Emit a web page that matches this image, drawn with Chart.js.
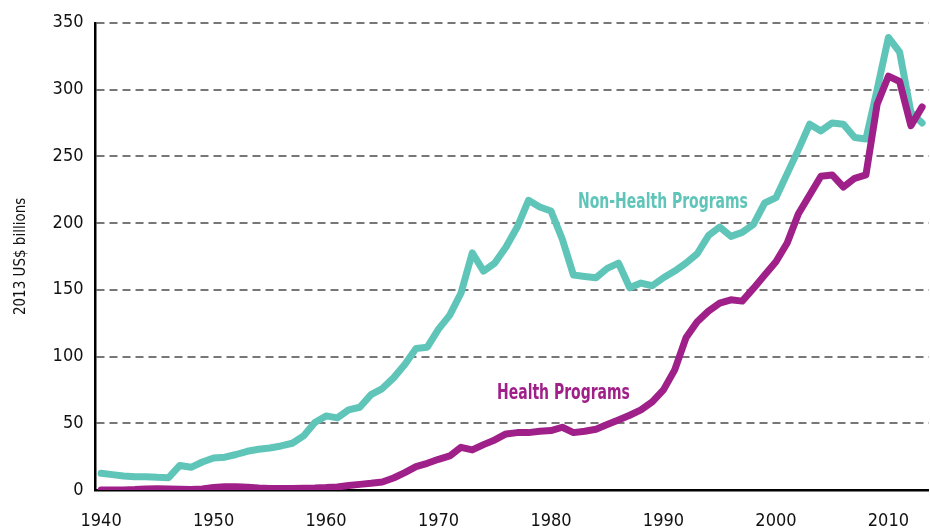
<!DOCTYPE html>
<html>
<head>
<meta charset="utf-8">
<script src="https://cdn.jsdelivr.net/npm/chart.js@4/dist/chart.umd.min.js"></script>
<style>
  html, body { margin: 0; padding: 0; background: #fff; }
  #wrap { width: 930px; height: 531px; }
</style>
</head>
<body>
<div id="wrap"><canvas id="programsChart"></canvas></div>
<script>
// années 1940 - 2013
const years = [
  1940, 1941, 1942, 1943, 1944, 1945, 1946, 1947, 1948, 1949,
  1950, 1951, 1952, 1953, 1954, 1955, 1956, 1957, 1958, 1959,
  1960, 1961, 1962, 1963, 1964, 1965, 1966, 1967, 1968, 1969,
  1970, 1971, 1972, 1973, 1974, 1975, 1976, 1977, 1978, 1979,
  1980, 1981, 1982, 1983, 1984, 1985, 1986, 1987, 1988, 1989,
  1990, 1991, 1992, 1993, 1994, 1995, 1996, 1997, 1998, 1999,
  2000, 2001, 2002, 2003, 2004, 2005, 2006, 2007, 2008, 2009,
  2010, 2011, 2012, 2013,
];

// 2013 US$ billions
const healthPrograms = [
  0, 0, 0, 0.3, 0.8, 1, 0.8, 0.5, 0.3, 0.8,
  1.8, 2.4, 2.5, 2, 1.5, 1.2, 1.1, 1.2, 1.4, 1.5,
  1.8, 2.3, 3.3, 4.2, 5, 6, 9, 13, 17.5, 20,
  23, 25.5, 32, 30, 34, 37.5, 42, 43, 43, 44,
  44.5, 47, 43, 44, 45.5, 49, 52.5, 56, 60, 66,
  75, 90, 114, 126, 134, 140, 142.5, 141.5, 151, 161,
  171, 185, 207, 221, 235, 236, 227, 233.5, 236, 289,
  310, 306, 273, 287,
];

const nonHealthPrograms = [
  12.5, 11.5, 10.5, 10, 10, 9.5, 9.2, 18.4, 17, 21,
  24, 24.6, 26.6, 29, 30.5, 31.5, 33, 35, 40.5, 50.5,
  55.5, 54, 60, 62, 71.5, 76, 84, 94, 106, 107,
  120.5, 131, 147.6, 177.6, 164, 170, 182, 197, 217, 212,
  209, 188, 161, 160, 159, 166, 170, 151.5, 155, 153,
  159, 164, 170, 177, 190.6, 197, 190, 193, 199, 215,
  219, 237, 255, 274, 269, 275, 274, 264, 263, 300,
  339, 328, 283, 275,
];

const xTicks = [1940, 1950, 1960, 1970, 1980, 1990, 2000, 2010];
const yTicks = [0, 50, 100, 150, 200, 250, 300, 350];

const TEAL = "#60c5b9";
const MAGENTA = "#a0208a";
const NARROW = "'DejaVu Sans Condensed', 'DejaVu Sans', sans-serif";

// étiquettes des séries, posées sur le graphique
const seriesLabels = [
  { text: "Non-Health Programs", x: 1982.4, y: 215.5, color: TEAL },
  { text: "Health Programs", x: 1975.2, y: 72, color: MAGENTA },
];

const labelPlugin = {
  id: "seriesLabels",
  afterDatasetsDraw(chart) {
    const { ctx, scales } = chart;
    seriesLabels.forEach((l) => {
      ctx.save();
      ctx.translate(scales.x.getPixelForValue(l.x), scales.y.getPixelForValue(l.y));
      ctx.scale(0.74, 1); // police étroite
      ctx.font = "bold 21px " + NARROW;
      ctx.textAlign = "left";
      ctx.textBaseline = "middle";
      ctx.fillStyle = l.color;
      ctx.fillText(l.text, 0, 0);
      ctx.restore();
    });
  },
};

const toPoints = (values) => years.map((yr, i) => ({ x: yr, y: values[i] }));

new Chart(document.getElementById("programsChart"), {
  type: "line",
  data: {
    datasets: [
      {
        label: "Health Programs",
        data: toPoints(healthPrograms),
        borderColor: MAGENTA,
      },
      {
        label: "Non-Health Programs",
        data: toPoints(nonHealthPrograms),
        borderColor: TEAL,
      },
    ],
  },
  options: {
    responsive: true,
    maintainAspectRatio: false,
    animation: false,
    layout: { padding: { top: 16, right: 0, left: 0, bottom: 0 } },
    elements: {
      line: { borderWidth: 7, tension: 0, borderCapStyle: "round", borderJoinStyle: "round" },
      point: { radius: 0, hoverRadius: 0 },
    },
    plugins: {
      legend: { display: false },
      tooltip: { enabled: false },
    },
    scales: {
      x: {
        type: "linear",
        min: 1939.5,
        max: 2013.6,
        afterBuildTicks: (s) => { s.ticks = xTicks.map((v) => ({ value: v })); },
        afterFit: (s) => { s.height = 41; },
        grid: { display: false, drawTicks: false },
        border: { display: true, color: "#000", width: 2.5 },
        ticks: {
          color: "#111",
          padding: 21,
          maxRotation: 0,
          font: { family: NARROW, size: 18 },
          callback: (v) => String(v),
        },
      },
      y: {
        min: 0,
        max: 350,
        afterBuildTicks: (s) => { s.ticks = yTicks.map((v) => ({ value: v })); },
        afterFit: (s) => { s.width = 95.5; },
        grid: { color: "#777", lineWidth: 2, drawTicks: false },
        border: { display: true, color: "#000", width: 2.5, dash: [8, 5] },
        ticks: {
          color: "#111",
          padding: 12,
          font: { family: NARROW, size: 18 },
        },
        title: {
          display: true,
          text: "2013 US$ billions",
          color: "#111",
          padding: { top: 12, bottom: 0 },
          font: { family: NARROW, size: 15 },
        },
      },
    },
  },
  plugins: [labelPlugin],
});
</script>
</body>
</html>
